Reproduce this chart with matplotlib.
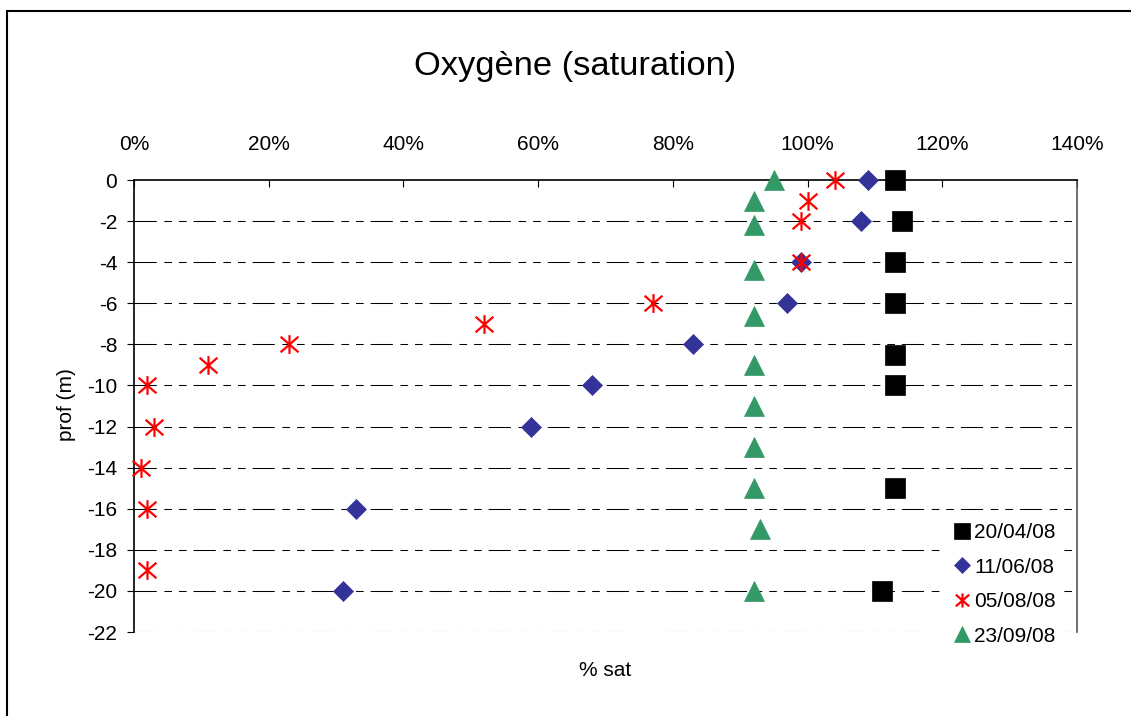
import numpy as np
import matplotlib
matplotlib.use("Agg")
import matplotlib.pyplot as plt
from matplotlib.path import Path
from matplotlib.patches import Rectangle
from matplotlib.ticker import FuncFormatter, MultipleLocator

plt.rcParams['font.family'] = ['Liberation Sans', 'DejaVu Sans']
plt.rcParams['lines.scale_dashes'] = False
plt.rcParams['axes.unicode_minus'] = False

# oxygen saturation (%) vs depth (m) for each sampling date
dates = ['20/04/08', '11/06/08', '05/08/08', '23/09/08']

depth_0420 = [0, -2, -4, -6, -8.5, -10, -15, -20]
sat_0420 = [113, 114, 113, 113, 113, 113, 113, 111]

depth_0611 = [0, -2, -4, -6, -8, -10, -12, -16, -20]
sat_0611 = [109, 108, 99, 97, 83, 68, 59, 33, 31]

depth_0805 = [0, -1, -2, -4, -6, -7, -8, -9, -10, -12, -14, -16, -19]
sat_0805 = [104, 100, 99, 99, 77, 52, 23, 11, 2, 3, 1, 2, 2]

depth_0923 = [0, -1, -2.2, -4.4, -6.6, -9, -11, -13, -15, -17, -20]
sat_0923 = [95, 92, 92, 92, 92, 92, 92, 92, 92, 93, 92]

# asterisk marker: vertical stroke plus an X
star = Path([(0, -1), (0, 1), (-0.95, -0.83), (0.95, 0.83), (-0.95, 0.83), (0.95, -0.83)],
            [Path.MOVETO, Path.LINETO, Path.MOVETO, Path.LINETO, Path.MOVETO, Path.LINETO])

fig = plt.figure(figsize=(11.31, 7.16), dpi=100)
ax = fig.add_axes([134 / 1131, 1 - 632 / 716, (1077 - 134) / 1131, (632 - 180) / 716])

ax.plot(sat_0420, depth_0420, ls='none', marker='s', ms=14.5, mfc='black', mec='black', mew=0.5,
        label=dates[0], zorder=4, clip_on=False)
ax.plot(sat_0611, depth_0611, ls='none', marker='D', ms=10.2, mfc='#333399', mec='#333399', mew=0.5,
        label=dates[1], zorder=4, clip_on=False)
ax.plot(sat_0805, depth_0805, ls='none', marker=star, ms=13.5, mfc='none', mec='#ff0000', mew=1.6,
        label=dates[2], zorder=4, clip_on=False)
ax.plot(sat_0923, depth_0923, ls='none', marker='^', ms=15, mfc='#339966', mec='#339966', mew=0.5,
        label=dates[3], zorder=4, clip_on=False)

ax.set_xlim(0, 140)
ax.set_ylim(-22, 0)
ax.xaxis.set_major_locator(MultipleLocator(20))
ax.xaxis.set_major_formatter(FuncFormatter(lambda v, p: '%d%%' % v))
ax.yaxis.set_major_locator(MultipleLocator(2))
ax.xaxis.tick_top()
ax.tick_params(axis='x', direction='in', length=5, width=0.8, pad=19, labelsize=15)
ax.tick_params(axis='y', direction='out', length=5, width=0.8, pad=7, labelsize=15)

# dashed horizontal grid (long, short, short)
for yv in np.arange(-22, 0, 2):
    ax.axhline(yv, color='black', lw=0.75, dashes=(16, 5.5, 5.5, 5, 5.5, 5), zorder=1)

for side in ['top', 'left']:
    ax.spines[side].set_color('black')
    ax.spines[side].set_linewidth(1.2)
ax.spines['right'].set_color('#555555')
ax.spines['right'].set_linewidth(1.2)
ax.spines['bottom'].set_visible(False)

leg = ax.legend(loc='upper left', bbox_to_anchor=(946 / 1131, 1 - 517 / 716),
                bbox_transform=fig.transFigure, fontsize=15, markerscale=0.75,
                frameon=True, fancybox=False, framealpha=1, facecolor='white',
                edgecolor='none', borderpad=0.3, borderaxespad=0, handlelength=0.9,
                handletextpad=0.15, labelspacing=0.74)
leg.set_zorder(5)

fig.text(575 / 1131, 1 - 67 / 716, 'Oxygène (saturation)', ha='center', va='center', fontsize=24.8)
fig.text(605 / 1131, 1 - 671 / 716, '% sat', ha='center', va='center', fontsize=15)
fig.text(66 / 1131, 1 - 405 / 716, 'prof (m)', ha='center', va='center', rotation=90, fontsize=15)

# chart outline
fig.patches.append(Rectangle((7 / 1131, -0.1), 1.2, 1 - 11 / 716 + 0.1, transform=fig.transFigure,
                             fill=False, edgecolor='black', lw=1.5))

fig.savefig('out.png', dpi=100)
